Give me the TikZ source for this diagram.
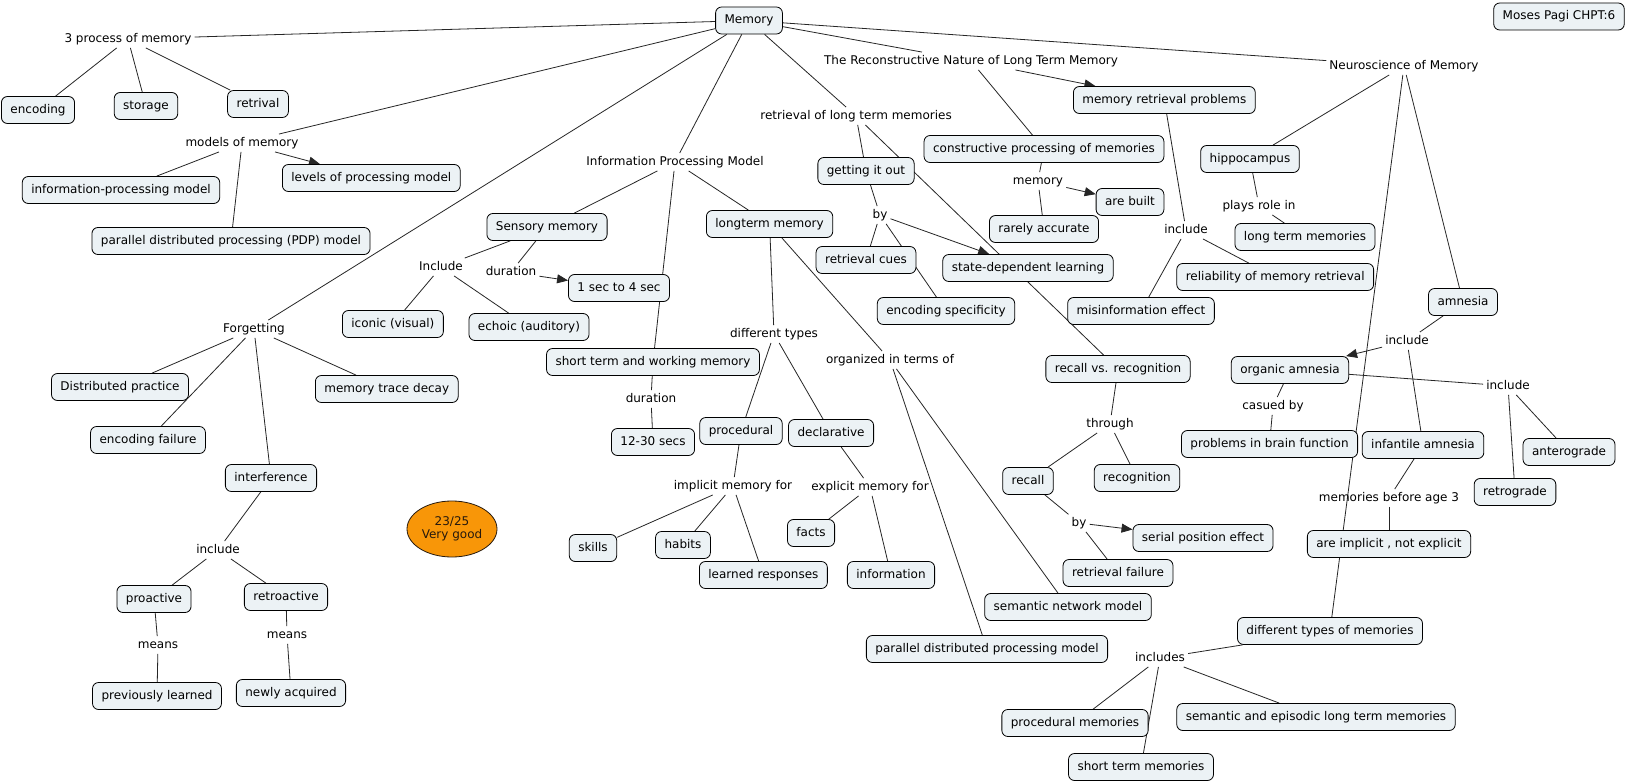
\documentclass[tikz,border=0pt]{standalone}
\usepackage{fontspec}
\setmainfont{DejaVu Sans}
\usetikzlibrary{arrows.meta,backgrounds,shapes.geometric}
\definecolor{boxfill}{RGB}{236,242,245}
\definecolor{gradefill}{RGB}{248,150,8}
\newcommand{\fsz}{\fontsize{12}{14.5}\selectfont}
\tikzset{
  cbox/.style={draw=black, line width=0.8pt, fill=boxfill, rounded corners=6pt,
    inner xsep=9pt, inner ysep=0pt, minimum height=27pt, text height=9pt, text depth=2.5pt, font=\fsz},
  lk/.style={inner sep=3pt, font=\fsz, text height=9pt, text depth=2.5pt},
  cn/.style={draw=black!85, line width=0.8pt},
  arr/.style={cn, -{Triangle[length=11pt,width=9pt]}}
}
\begin{document}
\begin{tikzpicture}[x=1pt,y=-1pt]
\useasboundingbox (0,0) rectangle (1628,781);
% concepts
\node[cbox] (mem) at (749,20.5) {Memory};
\node[cbox] (moses) at (1559,16.5) {Moses Pagi CHPT:6};
\node[cbox] (enc) at (38,110) {encoding};
\node[cbox] (sto) at (146,106) {storage};
\node[cbox] (ret) at (258,104) {retrival};
\node[cbox] (ipm) at (121,190) {information-processing model};
\node[cbox,anchor=west] (lop) at (282,178) {levels of processing model};
\node[cbox] (pdp) at (231,241) {parallel distributed processing (PDP) model};
\node[cbox] (sens) at (547,227) {Sensory memory};
\node[cbox,anchor=west] (ltm) at (706,224) {longterm memory};
\node[cbox] (gio) at (866,171) {getting it out};
\node[cbox] (cpm) at (1044,149) {constructive processing of memories};
\node[cbox,anchor=west] (mrp) at (1073,100) {memory retrieval problems};
\node[cbox] (built) at (1130,202) {are built};
\node[cbox] (rare) at (1044,229) {rarely accurate};
\node[cbox] (hip) at (1250,159) {hippocampus};
\node[cbox] (ltmem) at (1305,237) {long term memories};
\node[cbox] (rcues) at (866,260) {retrieval cues};
\node[cbox] (sdl) at (1028,268) {state-dependent learning};
\node[cbox] (encspec) at (946,311) {encoding specificity};
\node[cbox] (misinf) at (1141,311) {misinformation effect};
\node[cbox,anchor=east] (reli) at (1374,277) {reliability of memory retrieval};
\node[cbox] (rvr) at (1118,369) {recall vs. recognition};
\node[cbox] (recog) at (1137,478) {recognition};
\node[cbox] (recall) at (1028,481) {recall};
\node[cbox,anchor=east] (decl) at (874,433) {declarative};
\node[cbox] (amn) at (1463,302) {amnesia};
\node[cbox] (org) at (1290,370) {organic amnesia};
\node[cbox,anchor=east] (pbf) at (1358,444) {problems in brain function};
\node[cbox] (inf) at (1423,445) {infantile amnesia};
\node[cbox] (antero) at (1569,452) {anterograde};
\node[cbox] (retro) at (1515,492) {retrograde};
\node[cbox,anchor=west] (iconic) at (342,324) {iconic (visual)};
\node[cbox] (echoic) at (529,327) {echoic (auditory)};
\node[cbox] (sec14) at (619,288) {1 sec to 4 sec};
\node[cbox] (stwm) at (653,362) {short term and working memory};
\node[cbox] (sec1230) at (653,442) {12-30 secs};
\node[cbox] (proc) at (741,431) {procedural};
\node[cbox] (dp) at (120,387) {Distributed practice};
\node[cbox] (ef) at (148,440) {encoding failure};
\node[cbox,anchor=west] (mtd) at (315,389) {memory trace decay};
\node[cbox] (interf) at (271,478) {interference};
\node[cbox] (pro) at (154,599) {proactive};
\node[cbox] (retroa) at (286,597) {retroactive};
\node[cbox] (prev) at (157,696) {previously learned};
\node[cbox] (newly) at (291,693) {newly acquired};
\node[ellipse, draw=black!80!brown, line width=0.8pt, fill=gradefill, minimum width=90pt, minimum height=56pt,
  inner sep=0pt, align=center, font=\fsz, text=black!80!brown] (grade) at (452,529) {23/25\\[-1pt]Very good};
\node[cbox] (skills) at (593,548) {skills};
\node[cbox] (habits) at (683,545) {habits};
\node[cbox,anchor=west] (lresp) at (699,575) {learned responses};
\node[cbox,anchor=east] (facts) at (835,533) {facts};
\node[cbox] (info) at (891,575) {information};
\node[cbox] (rfail) at (1118,573) {retrieval failure};
\node[cbox] (spe) at (1203,538) {serial position effect};
\node[cbox] (snm) at (1068,607) {semantic network model};
\node[cbox] (pdpm) at (987,649) {parallel distributed processing model};
\node[cbox] (procmem) at (1075,723) {procedural memories};
\node[cbox] (stm) at (1141,767) {short term memories};
\node[cbox] (sem) at (1316,717) {semantic and episodic long term memories};
\node[cbox] (impl) at (1389,544) {are implicit , not explicit};
\node[cbox] (dtm) at (1330,631) {different types of memories};
% linking phrases
\node[lk] (l3p) at (128,39) {3 process of memory};
\node[lk] (lmod) at (242,143) {models of memory};
\node[lk] (lipm) at (675,162) {Information Processing Model};
\node[lk,anchor=east] (lrltm) at (955,116) {retrieval of long term memories};
\node[lk] (ltrn) at (971,61) {The Reconstructive Nature of Long Term Memory};
\node[lk] (lneuro) at (1404,66) {Neuroscience of Memory};
\node[lk] (lmemory) at (1038,181) {memory};
\node[lk] (lby1) at (880,215) {by};
\node[lk] (linc1) at (1186,230) {include};
\node[lk] (lplays) at (1259,206) {plays role in};
\node[lk] (lInc) at (441,267) {Include};
\node[lk] (ldur1) at (511,272) {duration};
\node[lk] (ldtypes) at (774,334) {different types};
\node[lk] (ldur2) at (651,399) {duration};
\node[lk] (limpl) at (733,486) {implicit memory for};
\node[lk] (lexpl) at (870,487) {explicit memory for};
\node[lk] (lorg) at (890,360) {organized in terms of};
\node[lk] (lthrough) at (1110,424) {through};
\node[lk] (lby2) at (1079,523) {by};
\node[lk] (lforg) at (254,329) {Forgetting};
\node[lk] (linc2) at (218,550) {include};
\node[lk] (lmeans1) at (158,645) {means};
\node[lk] (lmeans2) at (287,635) {means};
\node[lk] (linc3) at (1407,341) {include};
\node[lk] (linc4) at (1508,386) {include};
\node[lk] (lcaus) at (1273,406) {casued by};
\node[lk] (lbefore) at (1389,498) {memories before age 3};
\node[lk] (lincludes) at (1160,658) {includes};
% connectors
\begin{pgfonlayer}{background}
\fill[white] (0,0) rectangle (1628,781);
\draw[cn] (mem) -- (l3p);
\draw[cn] (l3p) -- (enc);
\draw[cn] (l3p) -- (sto);
\draw[cn] (l3p) -- (ret);
\draw[cn] (mem) -- (lmod);
\draw[cn] (lmod) -- (ipm);
\draw[cn] (lmod) -- (pdp);
\draw[arr] (lmod) -- (lop);
\draw[cn] (mem) -- (lforg);
\draw[cn] (lforg) -- (dp);
\draw[cn] (lforg) -- (ef);
\draw[cn] (lforg) -- (mtd);
\draw[cn] (lforg) -- (interf);
\draw[cn] (interf) -- (linc2);
\draw[cn] (linc2) -- (pro);
\draw[cn] (linc2) -- (retroa);
\draw[cn] (pro) -- (lmeans1);
\draw[cn] (lmeans1) -- (prev);
\draw[cn] (retroa) -- (lmeans2);
\draw[cn] (lmeans2) -- (newly);
\draw[cn] (mem) -- (lipm);
\draw[cn] (lipm) -- (sens);
\draw[cn] (lipm) -- (ltm);
\draw[cn] (lipm) -- (stwm);
\draw[cn] (sens) -- (lInc);
\draw[cn] (lInc) -- (iconic);
\draw[cn] (lInc) -- (echoic);
\draw[cn] (sens) -- (ldur1);
\draw[arr] (ldur1) -- (sec14);
\draw[cn] (stwm) -- (ldur2);
\draw[cn] (ldur2) -- (sec1230);
\draw[cn] (ltm) -- (ldtypes);
\draw[cn] (ldtypes) -- (proc);
\draw[cn] (ldtypes) -- (decl);
\draw[cn] (proc) -- (limpl);
\draw[cn] (limpl) -- (skills);
\draw[cn] (limpl) -- (habits);
\draw[cn] (limpl) -- (lresp);
\draw[cn] (decl) -- (lexpl);
\draw[cn] (lexpl) -- (facts);
\draw[cn] (lexpl) -- (info);
\draw[cn] (ltm) -- (lorg);
\draw[cn] (lorg) -- (pdpm);
\draw[cn] (lorg) -- (snm);
\draw[cn] (mem) -- (lrltm);
\draw[cn] (lrltm) -- (gio);
\draw[cn] (lrltm) -- (rvr);
\draw[cn] (gio) -- (lby1);
\draw[cn] (lby1) -- (rcues);
\draw[cn] (lby1) -- (encspec);
\draw[arr] (lby1) -- (sdl);
\draw[cn] (rvr) -- (lthrough);
\draw[cn] (lthrough) -- (recall);
\draw[cn] (lthrough) -- (recog);
\draw[cn] (recall) -- (lby2);
\draw[arr] (lby2) -- (spe);
\draw[cn] (lby2) -- (rfail);
\draw[cn] (mem) -- (ltrn);
\draw[arr] (ltrn) -- (mrp);
\draw[cn] (ltrn) -- (cpm);
\draw[cn] (cpm) -- (lmemory);
\draw[cn] (lmemory) -- (rare);
\draw[arr] (lmemory) -- (built);
\draw[cn] (mrp) -- (linc1);
\draw[cn] (linc1) -- (misinf);
\draw[cn] (linc1) -- (reli);
\draw[cn] (mem) -- (lneuro);
\draw[cn] (lneuro) -- (hip);
\draw[cn] (hip) -- (lplays);
\draw[cn] (lplays) -- (ltmem);
\draw[cn] (lneuro) -- (amn);
\draw[cn] (lneuro) -- (dtm);
\draw[cn] (amn) -- (linc3);
\draw[arr] (linc3) -- (org);
\draw[cn] (linc3) -- (inf);
\draw[cn] (org) -- (linc4);
\draw[cn] (linc4) -- (antero);
\draw[cn] (linc4) -- (retro);
\draw[cn] (org) -- (lcaus);
\draw[cn] (lcaus) -- (pbf);
\draw[cn] (inf) -- (lbefore);
\draw[cn] (lbefore) -- (impl);
\draw[cn] (dtm) -- (lincludes);
\draw[cn] (lincludes) -- (procmem);
\draw[cn] (lincludes) -- (stm);
\draw[cn] (lincludes) -- (sem);
\end{pgfonlayer}
\end{tikzpicture}
\end{document}
